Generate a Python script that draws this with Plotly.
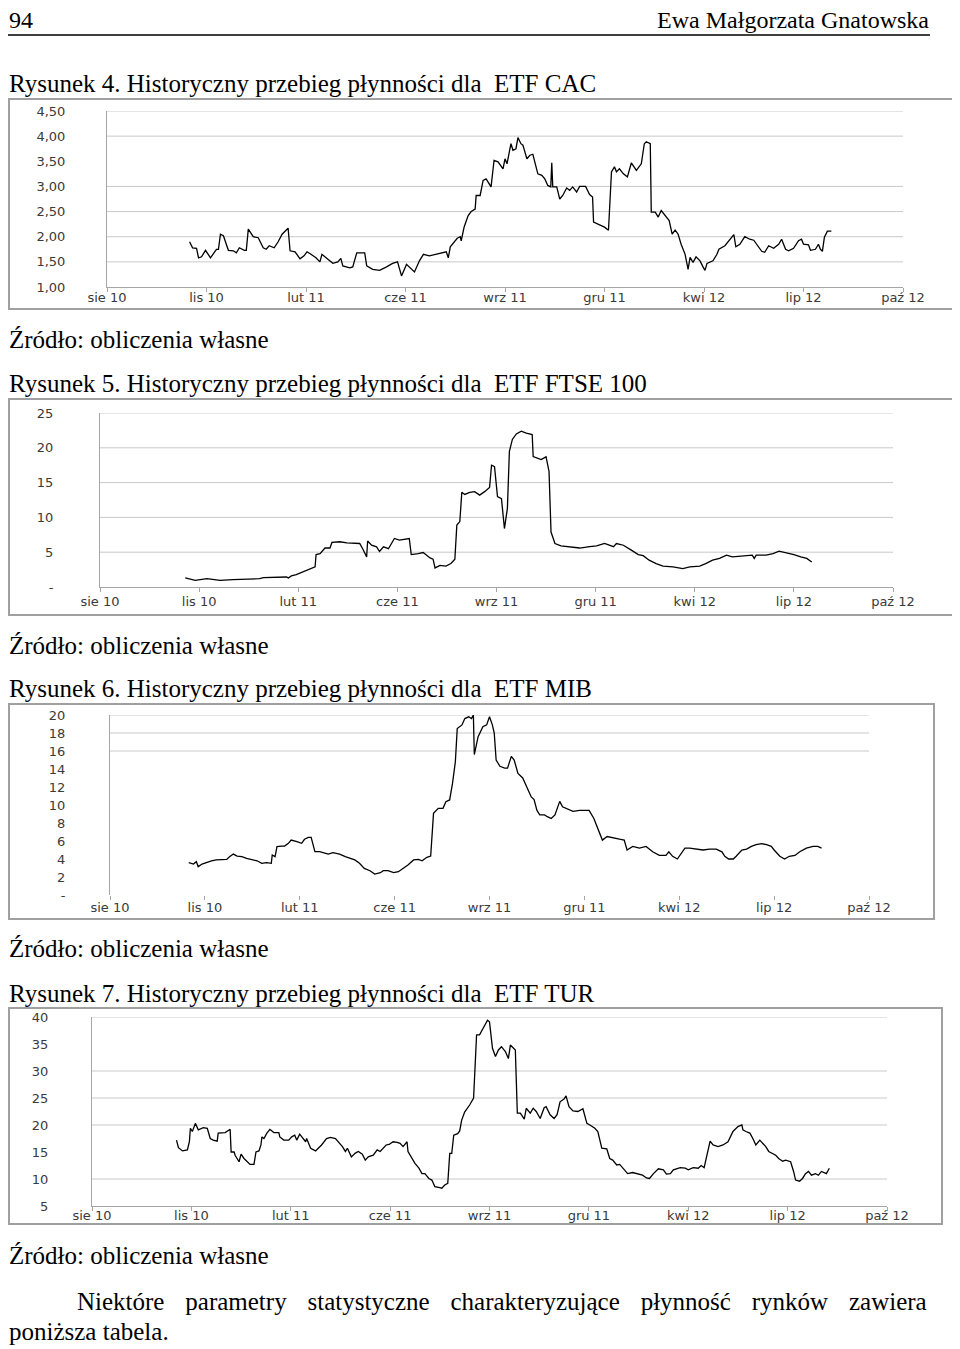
import plotly.graph_objects as go

# page is offset by the browser's default 8px body margin; size the figure to fit the window
OFF = 8
FW, FH = 960 - OFF, 1349 - OFF

# ---------------- data ----------------
x_tick_labels = ["sie 10", "lis 10", "lut 11", "cze 11", "wrz 11", "gru 11", "kwi 12", "lip 12", "paź 12"]
x_tick_days = [0, 100, 200, 300, 400, 500, 600, 700, 800]   # days from axis start (2010-08-10)

# CAC
cac_days = [83,86,90,92,95,99,104,110,112,114,117,122,127,130,133,138,140,142,147,152,
            157,160,163,168,172,176,182,184,189,194,198,201,205,210,214,216,222,227,232,235,
            237,244,247,251,259,261,267,274,281,287,292,296,301,306,309,314,318,324,331,338,
            341,343,345,352,355,356,359,363,366,370,371,375,
            378,381,385,386,389,393,398,400,402,406,408,411,413,416,418,422,425,428,433,437,
            440,443,446,447,448,452,455,458,462,465,468,472,475,481,485,488,489,493,500,504,
            507,510,512,515,519,523,527,532,537,540,542,546,547,551,554,557,561,565,568,571,
            574,577,581,584,586,589,592,596,599,601,603,606,609,613,615,621,626,630,632,636,
            641,646,650,653,658,661,665,670,675,678,682,685,690,695,698,700,705,707,712,715,
            717,719,721,724,728]
cac_vals = [1.90,1.78,1.77,1.58,1.60,1.73,1.58,1.75,1.75,2.05,2.02,1.73,1.72,1.68,1.78,1.73,1.73,2.15,2.00,1.98,
            1.78,1.75,1.82,1.78,1.90,2.05,2.17,1.72,1.70,1.56,1.62,1.70,1.65,1.58,1.50,1.65,1.55,1.47,1.50,1.57,
            1.42,1.38,1.40,1.68,1.68,1.42,1.35,1.33,1.40,1.47,1.50,1.22,1.45,1.35,1.30,1.52,1.65,1.62,1.65,1.68,
            1.70,1.58,1.80,1.97,2.00,1.92,2.20,2.42,2.50,2.55,2.82,2.82,
            3.12,3.15,3.02,2.99,3.52,3.49,3.35,3.55,3.45,3.85,3.72,3.75,3.97,3.85,3.82,3.55,3.62,3.64,3.25,3.22,
            3.15,3.02,2.99,3.47,2.99,2.99,2.75,2.82,2.97,2.92,2.99,2.89,3.00,3.00,2.84,2.79,2.29,2.25,2.19,2.13,
            3.29,3.39,3.29,3.35,3.25,3.19,3.47,3.32,3.45,3.85,3.89,3.85,2.49,2.49,2.39,2.52,2.42,2.32,2.05,2.13,
            2.05,1.85,1.65,1.35,1.59,1.49,1.60,1.52,1.40,1.33,1.47,1.49,1.52,1.65,1.75,1.82,1.95,2.04,1.80,1.85,
            2.00,1.95,1.93,1.85,1.71,1.69,1.82,1.77,1.85,1.95,1.75,1.72,1.77,1.92,1.95,1.85,1.84,1.73,1.75,1.85,
            1.75,1.71,1.99,2.11,2.11]
cac_ytickvals = [1.0, 1.5, 2.0, 2.5, 3.0, 3.5, 4.0, 4.5]
cac_yticktext = ["1,00", "1,50", "2,00", "2,50", "3,00", "3,50", "4,00", "4,50"]
cac_grid = [1.5, 2.0, 2.5, 3.0, 4.0, 4.5]

# FTSE 100
ftse_days = [86,96,108,121,134,148,161,165,181,188,190,193,198,202,208,213,217,218,222,227,
             232,234,239,242,249,262,265,269,270,274,279,282,286,291,297,302,312,314,321,326,
             333,336,338,343,349,354,358,360,363,365,368,373,378,383,
             388,393,395,398,401,405,408,411,413,416,420,425,430,436,437,442,445,450,453,455,
             459,465,474,484,494,501,509,518,521,528,536,543,548,554,561,568,578,588,595,605,
             611,618,625,632,638,648,658,660,662,672,679,685,692,700,707,713,718]
ftse_vals = [1.3,0.96,1.2,0.96,1.06,1.15,1.2,1.35,1.44,1.44,1.3,1.6,1.78,2.0,2.4,2.64,2.9,4.66,4.8,5.6,
             5.6,6.4,6.4,6.5,6.35,6.25,5.5,4.33,6.6,6.0,5.77,5.1,5.77,5.5,6.97,6.73,6.97,4.66,4.8,4.95,
             4.18,4.0,2.74,3.1,3.0,3.37,4.0,8.9,9.4,13.6,13.3,13.6,13.7,13.2,
             13.7,14.3,17.5,17.3,13.0,12.7,8.4,11.3,19.5,21.2,22.0,22.4,22.1,21.9,18.75,18.5,18.3,18.7,16.6,7.9,
             6.25,5.9,5.8,5.6,5.8,5.9,6.25,5.8,6.25,6.0,5.3,4.66,4.5,3.85,3.37,3.0,2.9,2.64,2.9,3.0,
             3.37,3.85,4.1,4.57,4.33,4.5,4.57,4.1,4.57,4.57,4.8,5.15,4.95,4.66,4.33,4.1,3.6]
ftse_ytickvals = [0, 5, 10, 15, 20, 25]
ftse_yticktext = ["-", "5", "10", "15", "20", "25"]
ftse_grid = [5, 10, 15, 20, 25]

# MIB
mib_days = [83,88,91,93,97,102,107,112,118,123,126,130,134,139,144,149,155,160,165,170,
            171,174,176,181,184,188,191,197,202,205,209,212,216,221,225,230,235,242,248,253,
            258,263,268,274,279,285,288,293,299,304,309,314,320,325,329,334,338,341,346,351,
            354,358,361,364,366,371,374,378,381,383,384,388,
            393,397,400,403,405,407,411,416,419,423,426,430,435,439,444,447,450,453,458,461,
            465,469,474,477,481,488,495,501,505,510,514,519,524,530,537,542,545,551,558,565,
            572,579,586,589,593,598,602,606,611,618,625,632,639,645,648,652,657,660,666,671,
            676,681,687,692,697,700,706,711,716,722,727,734,741,746,750]
mib_vals = [3.6,3.44,3.7,3.15,3.44,3.63,3.8,3.9,3.96,3.96,4.26,4.55,4.33,4.26,4.07,3.96,3.8,3.52,3.6,3.52,
            4.44,4.26,5.37,5.44,5.44,5.74,6.1,5.93,5.74,6.19,6.4,6.4,4.81,4.81,4.7,4.55,4.7,4.55,4.26,4.07,
            3.9,3.52,2.96,2.7,2.33,2.48,2.7,2.7,2.48,2.59,2.96,3.33,3.9,3.96,3.8,4.19,4.33,9.07,9.63,9.63,
            10.37,10.56,12.4,14.8,18.5,18.9,19.6,19.8,19.6,20.0,15.6,17.6,
            18.7,18.9,19.8,18.9,18.0,15.0,14.3,14.1,14.1,15.4,15.0,13.5,13.0,12.1,10.9,10.6,9.4,8.9,8.9,8.7,
            8.5,8.9,10.4,9.8,9.6,9.3,9.4,9.4,9.4,8.5,7.4,6.1,6.5,6.4,6.2,6.1,5.0,5.4,5.2,5.4,
            4.8,4.4,4.4,4.8,4.3,4.0,4.6,5.2,5.2,5.1,5.0,5.1,5.1,4.8,4.3,4.0,4.0,4.3,5.0,5.1,
            5.4,5.6,5.7,5.6,5.4,5.0,4.3,4.0,4.3,4.4,4.8,5.2,5.4,5.4,5.2]
mib_ytickvals = [0, 2, 4, 6, 8, 10, 12, 14, 16, 18, 20]
mib_yticktext = ["-", "2", "4", "6", "8", "10", "12", "14", "16", "18", "20"]
mib_grid = [16, 18, 20]

# TUR
tur_days = [85,87,91,96,98,99,101,104,107,112,116,119,122,126,127,131,134,139,140,143,
            144,148,150,153,156,159,163,165,168,170,171,173,176,179,183,188,189,193,198,201,
            204,206,209,211,215,216,218,220,225,228,231,236,240,245,248,252,255,257,261,265,
            268,272,275,278,283,287,290,293,296,299,303,307,310,313,317,318,322,325,329,332,
            335,339,342,345,350,352,355,358,360,362,364,368,370,372,375,380,384,387,390,
            394,398,400,403,406,409,412,416,419,421,426,428,431,435,437,441,444,447,451,455,
            457,461,465,468,471,475,477,480,484,489,494,498,501,506,509,513,518,521,524,528,
            531,534,539,544,549,554,558,561,565,570,575,578,582,585,592,597,600,605,610,613,
            616,618,622,625,630,635,640,645,650,654,655,658,662,665,668,672,675,678,681,685,
            688,691,695,698,703,706,708,712,715,718,721,724,728,731,734,739,742]
tur_vals = [17.2,15.8,15.2,15.4,16.9,19.4,18.8,20.3,19.1,19.5,19.4,17.5,17.2,17.0,18.5,18.6,18.6,19.2,15.0,15.0,
            14.4,13.2,14.6,13.8,13.2,12.7,12.7,15.0,15.2,16.3,17.8,17.5,18.5,19.2,18.6,18.6,17.8,17.2,17.2,17.8,
            18.1,17.2,18.3,17.9,16.9,17.5,16.4,15.7,15.2,15.7,16.3,17.5,17.7,17.5,16.9,16.0,15.1,15.7,14.1,14.8,
            15.1,14.6,13.5,14.1,14.4,15.4,15.1,15.7,16.3,16.4,16.9,16.8,16.6,16.0,16.9,15.1,13.8,12.9,12.0,11.0,
            11.0,10.1,9.8,8.6,8.4,8.3,8.9,9.2,14.75,14.75,18.1,18.4,18.9,20.9,22.4,23.7,25.0,36.7,36.7,
            38.2,39.4,39.1,34.2,32.7,33.9,34.5,33.6,32.3,34.8,33.9,22.2,22.2,21.1,23.1,22.2,23.1,22.5,21.2,23.2,
            23.4,21.9,21.2,21.9,24.3,24.8,25.4,23.4,22.6,22.5,23.0,20.3,20.0,19.4,18.8,15.7,15.6,13.8,13.5,12.6,
            12.7,12.0,11.0,11.2,11.0,10.7,10.2,10.1,11.0,11.9,11.7,10.9,11.0,11.7,12.1,12.0,11.7,12.1,12.0,12.5,
            12.1,13.8,17.0,16.3,16.0,16.3,16.9,18.8,19.7,20.0,19.1,18.8,18.5,17.5,16.3,17.2,16.6,16.0,15.1,14.75,
            14.4,13.8,13.3,13.5,13.2,11.4,9.8,9.6,10.1,11.0,11.4,10.7,11.0,10.7,11.4,11.0,12.0]
tur_ytickvals = [5, 10, 15, 20, 25, 30, 35, 40]
tur_yticktext = ["5", "10", "15", "20", "25", "30", "35", "40"]
tur_grid = [10, 20, 25, 30, 40]

# page texts
header_left = "94"
header_right = "Ewa Małgorzata Gnatowska"
titles = ["Rysunek 4. Historyczny przebieg płynności dla\u00a0 ETF CAC",
          "Rysunek 5. Historyczny przebieg płynności dla\u00a0 ETF FTSE 100",
          "Rysunek 6. Historyczny przebieg płynności dla\u00a0 ETF MIB",
          "Rysunek 7. Historyczny przebieg płynności dla\u00a0 ETF TUR"]
source_text = "Źródło: obliczenia własne"
para_line1_words = ["Niektóre", "parametry", "statystyczne", "charakteryzujące", "płynność", "rynków", "zawiera"]
para_line2 = "poniższa tabela."

# ---------------- layout helpers ----------------
def px(x):
    return (x - OFF) / FW

def py(y):
    return 1 - (y - OFF) / FH

charts = [
    dict(d=cac_days, v=cac_vals, yr=[1, 4.5], tv=cac_ytickvals, tt=cac_yticktext, g=cac_grid,
         box=(107, 903, 111, 287), frame=(9, 99, 955, 309), so=38, xso=-6, bl=True, title_y=86, src_y=342),
    dict(d=ftse_days, v=ftse_vals, yr=[0, 25], tv=ftse_ytickvals, tt=ftse_yticktext, g=ftse_grid,
         box=(100, 893, 413, 587), frame=(9, 399, 953, 615), so=43, xso=-2, bl=True, title_y=386, src_y=648),
    dict(d=mib_days, v=mib_vals, yr=[0, 20], tv=mib_ytickvals, tt=mib_yticktext, g=mib_grid,
         box=(110, 869, 715, 895), frame=(9, 704, 934, 919), so=41, xso=-4, bl=False, title_y=691, src_y=951),
    dict(d=tur_days, v=tur_vals, yr=[5, 40], tv=tur_ytickvals, tt=tur_yticktext, g=tur_grid,
         box=(92, 887, 1017, 1206), frame=(9, 1008, 942, 1224), so=40, xso=-7, bl=True, title_y=996, src_y=1258),
]

fig = go.Figure()
shapes = []
tickfont = dict(family="DejaVu Sans", size=13, color="#3a3a3a")
axis_col = "#a6a6a6"

for i, c in enumerate(charts, start=1):
    sfx = "" if i == 1 else str(i)
    fig.add_trace(go.Scatter(x=c["d"], y=c["v"], mode="lines",
                             line=dict(color="black", width=1.3),
                             xaxis="x" + sfx, yaxis="y" + sfx, showlegend=False,
                             hoverinfo="skip"))
    x0, x1, yt, yb = c["box"]
    fig.layout["xaxis" + sfx] = dict(
        domain=[px(x0), px(x1)], range=[0, 800], anchor="y" + sfx, automargin=False,
        tickvals=x_tick_days, ticktext=x_tick_labels, tickfont=tickfont, ticklabelstandoff=c["xso"],
        showgrid=False, zeroline=False, showline=c["bl"], linecolor=axis_col, linewidth=1,
        ticks="outside", ticklen=4, tickcolor=axis_col, tickwidth=1, fixedrange=True)
    fig.layout["yaxis" + sfx] = dict(
        domain=[py(yb), py(yt)], range=c["yr"], anchor="x" + sfx, automargin=False,
        tickvals=c["tv"], ticktext=c["tt"], tickfont=tickfont,
        showgrid=False, zeroline=False, showline=True, linecolor=axis_col, linewidth=1,
        ticks="", ticklabelstandoff=c["so"], fixedrange=True)
    for gv in c["g"]:
        shapes.append(dict(type="line", xref="x" + sfx, yref="y" + sfx, x0=0, x1=800, y0=gv, y1=gv,
                           line=dict(color="#c9c9c9", width=1), layer="below"))
    fx0, fy0, fx1, fy1 = c["frame"]
    shapes.append(dict(type="rect", xref="paper", yref="paper", x0=px(fx0), x1=px(fx1),
                       y0=py(fy1), y1=py(fy0), line=dict(color="#a0a0a0", width=2),
                       fillcolor="rgba(0,0,0,0)", layer="below"))

# header rule
shapes.append(dict(type="line", xref="paper", yref="paper", x0=px(OFF), x1=px(930), y0=py(35), y1=py(35),
                   line=dict(color="black", width=1.5)))

# page text drawn as a text trace on a full-page overlay axis (pixel coordinates)
txt_x, txt_y, txt_s, txt_pos, txt_size = [], [], [], [], []
def add_text(s, x, y, pos="middle right", size=25):
    txt_x.append(x); txt_y.append(y); txt_s.append(s); txt_pos.append(pos); txt_size.append(size)

LEFT = OFF + 1
add_text(header_left, LEFT, 21.5, size=24)
add_text(header_right, 929, 21.5, "middle left", size=24)
for c, t in zip(charts, titles):
    add_text(t, LEFT, c["title_y"])
    add_text(source_text, LEFT, c["src_y"])
# justified first line of the paragraph: widen word gaps
add_text(" \u00a0\u00a0\u200a".join(para_line1_words), 77, 1304)
add_text(para_line2, LEFT, 1334)

fig.add_trace(go.Scatter(x=txt_x, y=txt_y, text=txt_s, mode="text", textposition=txt_pos,
                         textfont=dict(family="Liberation Serif", size=txt_size, color="black"),
                         xaxis="x5", yaxis="y5", showlegend=False, hoverinfo="skip", cliponaxis=False))
fig.layout["xaxis5"] = dict(domain=[0, 1], range=[OFF, OFF + FW], visible=False, fixedrange=True, automargin=False)
fig.layout["yaxis5"] = dict(domain=[0, 1], range=[OFF + FH, OFF], visible=False, fixedrange=True, automargin=False)

fig.update_layout(template="none", width=FW, height=FH, autosize=False,
                  margin=dict(l=0, r=0, t=0, b=0, pad=0),
                  paper_bgcolor="white", plot_bgcolor="rgba(0,0,0,0)", showlegend=False,
                  shapes=shapes)

fig.write_html("out.html")
